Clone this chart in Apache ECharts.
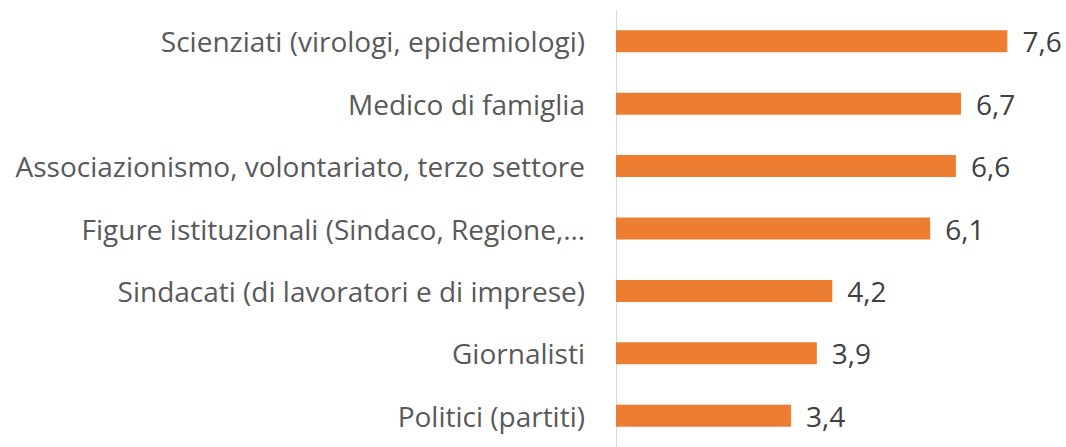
<!DOCTYPE html>
<html>
<head>
<meta charset="utf-8">
<script src="https://cdn.jsdelivr.net/npm/echarts@6/dist/echarts.min.js"></script>
<style>
  html, body { margin: 0; padding: 0; background: #fff; }
  #main { width: 1066px; height: 447px; }
</style>
</head>
<body>
<div id="main"></div>
<script>
// categories, top to bottom
const categories = [
  'Scienziati (virologi, epidemiologi)',
  'Medico di famiglia',
  'Associazionismo, volontariato, terzo settore',
  'Figure istituzionali (Sindaco, Regione,…',
  'Sindacati (di lavoratori e di imprese)',
  'Giornalisti',
  'Politici (partiti)'
];
const values = [7.6, 6.7, 6.6, 6.1, 4.2, 3.9, 3.4];

const myChart = echarts.init(document.getElementById('main'), null, { renderer: 'svg' });
const option = {
  animation: false,
  textStyle: { fontFamily: 'Open Sans' },
  grid: { left: 616, top: 10, width: 412, height: 442 },
  xAxis: {
    type: 'value',
    min: 0,
    max: 8,
    show: false
  },
  yAxis: {
    type: 'category',
    inverse: true,
    data: categories,
    axisLine: { show: true, lineStyle: { color: '#d9d9d9', width: 1 } },
    axisTick: { show: false },
    axisLabel: { color: '#595959', fontSize: 28, margin: 31 }
  },
  series: [
    {
      type: 'bar',
      data: values,
      barWidth: 22,
      itemStyle: { color: '#ed7d31' },
      label: {
        show: true,
        position: 'right',
        distance: 15,
        color: '#404040',
        fontSize: 28,
        formatter: p => String(p.value).replace('.', ',')
      }
    }
  ]
};
myChart.setOption(option);
</script>
</body>
</html>
